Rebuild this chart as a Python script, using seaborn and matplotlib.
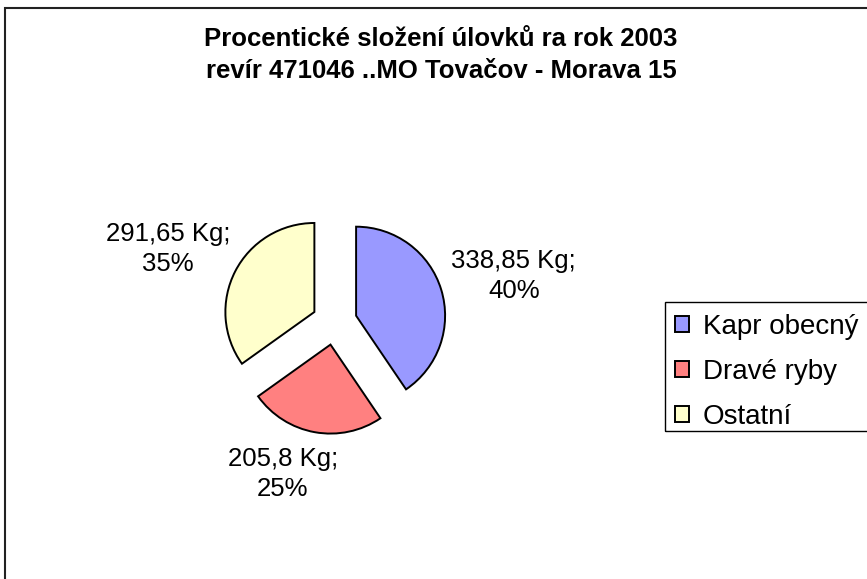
import numpy as np
import matplotlib
matplotlib.use("Agg")
import matplotlib.pyplot as plt
import matplotlib.patches as mpatches
import seaborn as sns

# data
categories = ["Kapr obecný", "Dravé ryby", "Ostatní"]
catch_kg = [338.85, 205.8, 291.65]
percent_labels = [40, 25, 35]
colors = ["#9999FF", "#FF8080", "#FFFFCC"]

title = "Procentické složení úlovků ra rok 2003\nrevír 471046 ..MO Tovačov - Morava 15"

sns.set_theme(style="white")
plt.rcParams['font.family'] = ['Liberation Sans', 'DejaVu Sans']
plt.rcParams['text.color'] = 'black'

fig = plt.figure(figsize=(8.67, 5.79), dpi=100)
fig.patch.set_facecolor("white")

# pie axes: square box centred on the pie
ax = fig.add_axes([0.1551, 0.0979, 0.4614, 0.6908])
lim = 2.247
wedges, _ = ax.pie(catch_kg, colors=colors, startangle=90, counterclock=False,
                   explode=[0.254] * 3, radius=1.0,
                   wedgeprops=dict(edgecolor="black", linewidth=1.4))
ax.set_xlim(-lim, lim)
ax.set_ylim(-lim, lim)
ax.set_aspect("equal")
ax.axis("off")

# data labels "value Kg; pct%"
lab_radius = [2.08, 1.80, 2.04]
lab_nudge = [-2.6, -8.6, 3.5]
for w, v, p, r, n in zip(wedges, catch_kg, percent_labels, lab_radius, lab_nudge):
    mid = np.deg2rad((w.theta1 + w.theta2) / 2 + n)
    txt = f"{v:g}".replace(".", ",") + f" Kg;\n{p}%"
    ax.text(r * np.cos(mid), r * np.sin(mid), txt, ha="center", va="center",
            fontsize=18.5, linespacing=1.3, color="black")

fig.text(441 / 867, 1 - 55 / 579, title, ha="center", va="center",
         fontsize=18.5, fontweight="bold", linespacing=1.45, color="black")

leg = fig.legend(wedges, categories, loc="upper left",
                 bbox_to_anchor=(665 / 867, 1 - 304 / 579), borderaxespad=0,
                 fontsize=20, frameon=False,
                 handlelength=0.52, handleheight=0.52, handletextpad=0.5,
                 labelspacing=0.68, borderpad=0.35)
for t in leg.get_texts():
    t.set_color("black")

# legend frame runs off the right edge like in the original
fig.canvas.draw()
bb = leg.get_window_extent().transformed(fig.transFigure.inverted())
top = 1 - 302 / 579
bottom = bb.y0 + 8 / 579
fig.patches.append(mpatches.Rectangle((bb.x0, bottom), 0.5, top - bottom,
                                      transform=fig.transFigure, fill=False,
                                      edgecolor="black", linewidth=1.0))

# chart area border (right and bottom edges fall outside the image)
fig.patches.append(mpatches.Rectangle((5 / 867, -0.1), 1.2, 1 - 8 / 579 + 0.1,
                                      transform=fig.transFigure, fill=False,
                                      edgecolor="#222222", linewidth=1.5))

fig.savefig("out.png", dpi=100, facecolor="white")
